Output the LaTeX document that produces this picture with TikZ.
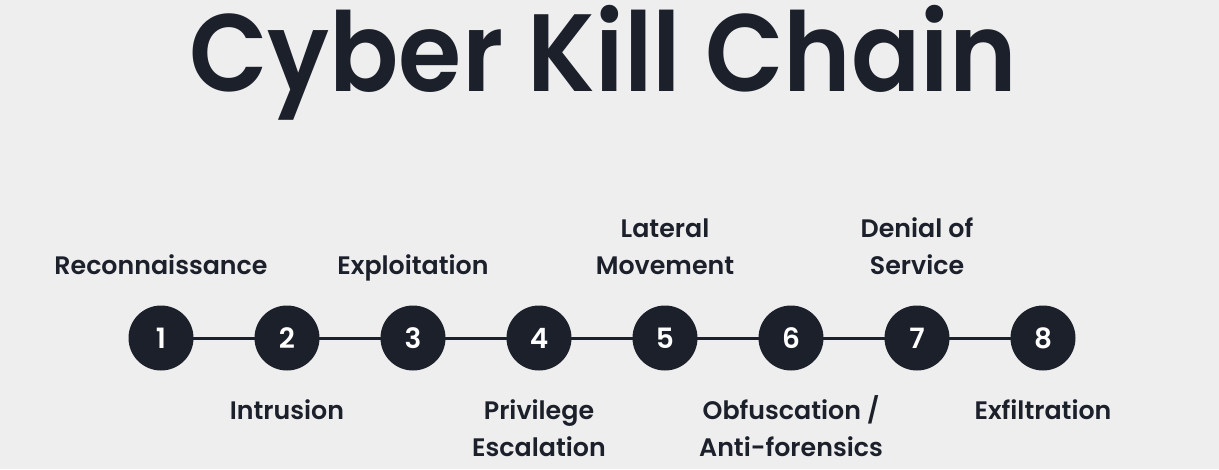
\documentclass[tikz,border=0pt]{standalone}
\usepackage{fontspec}
\setmainfont{Poppins}
\newfontfamily\titlefont{Poppins SemiBold}
\definecolor{bg}{HTML}{EEEEEE}
\definecolor{ink}{HTML}{1C202B}
\begin{document}
\begin{tikzpicture}[x=1pt,y=-1pt,
  stage/.style={circle,fill=ink,minimum size=65pt,inner sep=0pt,text=white,font=\fontsize{28}{28}\titlefont},
  lbl/.style={anchor=base,text=ink,font=\fontsize{25.3}{37}\titlefont,align=center},
  link/.style={draw=ink,line width=3pt}]
\fill[bg] (0,0) rectangle (1219,469);
\useasboundingbox (0,0) rectangle (1219,469);
\node[anchor=base,text=ink,font=\fontsize{110}{110}\titlefont,xscale=0.93] (title) at (603,91) {Cyber Kill Chain};
\foreach \i in {1,...,8}{
  \coordinate (c\i) at ({161+126*(\i-1)},338);
}
\draw[link] (c1) -- (c8);
\foreach \i in {1,...,8}{
  \node[stage] (s\i) at (c\i) {\i};
}
\node[lbl] (l1) at (161,274) {Reconnaissance};
\node[lbl] (l2) at (287,419) {Intrusion};
\node[lbl] (l3) at (413,274) {Exploitation};
\node[lbl] (l4) at (539,456) {Privilege\\Escalation};
\node[lbl] (l5) at (665,274) {Lateral\\Movement};
\node[lbl] (l6) at (791,456) {Obfuscation /\\Anti-forensics};
\node[lbl] (l7) at (917,274) {Denial of\\Service};
\node[lbl] (l8) at (1043,419) {Exfiltration};
\end{tikzpicture}
\end{document}
